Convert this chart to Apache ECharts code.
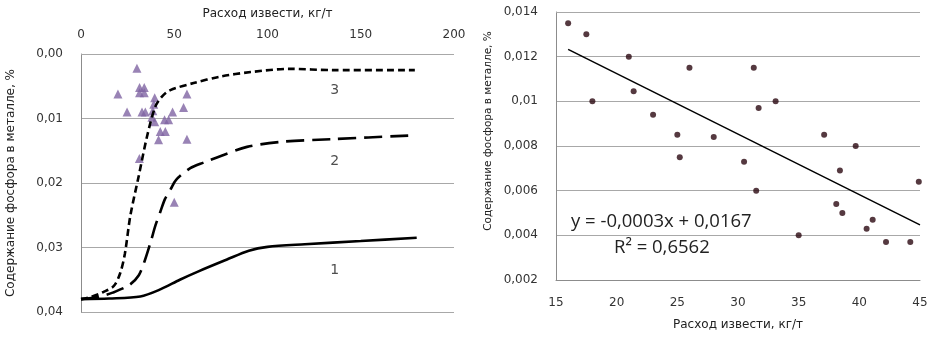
<!DOCTYPE html>
<html>
<head>
<meta charset="utf-8">
<script src="https://cdn.jsdelivr.net/npm/echarts@6/dist/echarts.min.js"></script>
<style>
  html, body { margin: 0; padding: 0; background: #fff; }
  #chart { width: 940px; height: 337px; }
</style>
</head>
<body>
<div id="chart"></div>
<script>
// левый график: кривые 1-3 и опытные точки (треугольники)
const curve1 = [[0, 0.038], [15, 0.0379], [31.8, 0.0376], [42.5, 0.0365], [53, 0.035], [63, 0.0337],
  [78, 0.0319], [90, 0.0305], [100, 0.0299], [120, 0.0295], [150, 0.029], [180, 0.0285]]
const curve2 = [[0, 0.038], [10, 0.0376], [17, 0.037], [26, 0.0358], [31, 0.0343], [34, 0.0322],
  [37.2, 0.0293], [40, 0.0265], [42.5, 0.0245], [45, 0.0225], [48, 0.021], [51, 0.0195],
  [58.6, 0.0177], [66, 0.0168], [75, 0.0158], [89, 0.0144], [108, 0.0136], [135, 0.0132], [179, 0.0126]]
const curve3 = [[0, 0.038], [5, 0.0377], [12, 0.0369], [17.5, 0.036], [21, 0.034], [23.5, 0.031],
  [26.5, 0.025], [30.9, 0.019], [35.4, 0.0128], [39.8, 0.0082], [43.4, 0.0066], [47.9, 0.0056],
  [60.4, 0.0045], [74.7, 0.0035], [91, 0.0028], [112, 0.0023], [135, 0.0025], [179, 0.0025]]
const triangles = [[30, 0.0022], [19.8, 0.0062], [31.4, 0.0052], [33.9, 0.0052], [31.4, 0.006],
  [33.9, 0.006], [24.7, 0.009], [32.7, 0.009], [34.5, 0.009], [39.5, 0.0068], [39, 0.0078],
  [38.5, 0.0088], [38, 0.0098], [39.5, 0.0105], [44.8, 0.0102], [47, 0.0102], [49.1, 0.009],
  [56.8, 0.0062], [55, 0.0083], [42.5, 0.012], [45.2, 0.012], [41.6, 0.0133], [56.8, 0.0132],
  [31.3, 0.0162], [50, 0.023]]
const curveLabels = [[136, 0.0056, '3'], [136, 0.0167, '2'], [136, 0.0335, '1']]

// правый график: точки и линия тренда
const limeX = [16, 17.5, 18, 21, 21.4, 23, 25, 25.2, 26, 28, 30.5, 31.3, 31.7, 33.1, 37.1, 39.7,
  38.4, 31.5, 35, 38.1, 38.6, 41.1, 40.6, 42.2, 44.2, 44.9]
const phosY = [0.0135, 0.013, 0.01, 0.012, 0.01045, 0.0094, 0.0085, 0.0075, 0.0115, 0.0084, 0.0073,
  0.0115, 0.0097, 0.01, 0.0085, 0.008, 0.0069, 0.006, 0.004, 0.0054, 0.005, 0.0047, 0.0043,
  0.0037, 0.0037, 0.0064]
const trendX = [16, 45]
const trendY = [0.01233, 0.00447]

const font = 'DejaVu Sans'
const gridColor = '#a8a8a8'
const axisLine = { show: true, lineStyle: { color: '#8c8c8c', width: 1 } }
const splitLine = { show: true, lineStyle: { color: gridColor, width: 1 } }
const labelStyle = { color: '#333', fontFamily: font, fontSize: 12 }
const nameStyle = { color: '#222', fontFamily: font, fontSize: 12 }

// верхняя линия сетки (на краю области построения)
const edgeLine = (value) => ({
  silent: true, symbol: ['none', 'none'], label: { show: false }, precision: 4,
  lineStyle: { color: gridColor, width: 1, type: 'solid' },
  data: [{ yAxis: value }],
})

const chart = echarts.init(document.getElementById('chart'), null, { renderer: 'canvas' })

chart.setOption({
  animation: false,
  backgroundColor: '#fff',
  grid: [
    { left: 81, right: 486, top: 54, bottom: 25 },
    { left: 556, right: 20, top: 12, bottom: 57 },
  ],
  xAxis: [
    {
      gridIndex: 0, type: 'value', position: 'top', min: 0, max: 200, interval: 50,
      name: 'Расход извести, кг/т', nameLocation: 'middle', nameGap: 34, nameTextStyle: nameStyle,
      axisLine: { show: false }, axisTick: { show: false }, splitLine: { show: false },
      axisLabel: { ...labelStyle, margin: 13 },
    },
    {
      gridIndex: 1, type: 'value', min: 15, max: 45, interval: 5,
      name: 'Расход извести, кг/т', nameLocation: 'middle', nameGap: 39, nameTextStyle: nameStyle,
      axisLine, axisTick: { show: false }, splitLine: { show: false },
      axisLabel: { ...labelStyle, margin: 17 },
    },
  ],
  yAxis: [
    {
      gridIndex: 0, type: 'value', inverse: true, min: 0, max: 0.04, interval: 0.01,
      name: 'Содержание фосфора в металле, %', nameLocation: 'middle', nameGap: 64,
      nameTextStyle: nameStyle,
      axisLine, axisTick: { show: false }, splitLine,
      axisLabel: { ...labelStyle, margin: 18, formatter: (v) => v.toFixed(2).replace('.', ',') },
    },
    {
      gridIndex: 1, type: 'value', min: 0.002, max: 0.014, interval: 0.002,
      name: 'Содержание фосфора в металле, %', nameLocation: 'middle', nameGap: 62,
      nameTextStyle: { ...nameStyle, fontSize: 10.5, padding: [0, 0, 0, 30] },
      axisLine, axisTick: { show: false }, splitLine,
      axisLabel: {
        ...labelStyle, margin: 18,
        formatter: (v) => String(parseFloat(v.toFixed(3))).replace('.', ','),
      },
    },
  ],
  series: [
    {
      type: 'scatter', xAxisIndex: 0, yAxisIndex: 0, data: triangles,
      symbol: 'triangle', symbolSize: 9, itemStyle: { color: '#8064a2' }, z: 2,
      markLine: edgeLine(0),
    },
    {
      type: 'line', xAxisIndex: 0, yAxisIndex: 0, data: curve1, smooth: 0.3, showSymbol: false,
      lineStyle: { color: '#000', width: 2.6 }, z: 3,
    },
    {
      type: 'line', xAxisIndex: 0, yAxisIndex: 0, data: curve2, smooth: 0.3, showSymbol: false,
      lineStyle: { color: '#000', width: 2.6, type: [18, 8] }, z: 3,
    },
    {
      type: 'line', xAxisIndex: 0, yAxisIndex: 0, data: curve3, smooth: 0.3, showSymbol: false,
      lineStyle: { color: '#000', width: 2.6, type: [7, 4] }, z: 3,
    },
    {
      type: 'scatter', xAxisIndex: 0, yAxisIndex: 0, data: curveLabels, symbolSize: 0,
      label: {
        show: true, position: 'inside', formatter: (p) => p.data[2],
        color: '#222', fontFamily: font, fontSize: 14,
      },
    },
    {
      type: 'scatter', xAxisIndex: 1, yAxisIndex: 1,
      data: limeX.map((x, i) => [x, phosY[i]]),
      symbolSize: 6, itemStyle: { color: '#2a0810' },
      markLine: edgeLine(0.014),
    },
    {
      type: 'line', xAxisIndex: 1, yAxisIndex: 1,
      data: trendX.map((x, i) => [x, trendY[i]]),
      showSymbol: false, lineStyle: { color: '#000', width: 1.5 },
    },
  ],
  graphic: [
    {
      type: 'text', left: 571, top: 212,
      style: { text: 'y = -0,0003x + 0,0167', fill: '#222', font: '18.5px "Open Sans"' },
    },
    {
      type: 'text', left: 614, top: 238,
      style: { text: 'R² = 0,6562', fill: '#222', font: '18.5px "Open Sans"' },
    },
  ],
})
</script>
</body>
</html>
